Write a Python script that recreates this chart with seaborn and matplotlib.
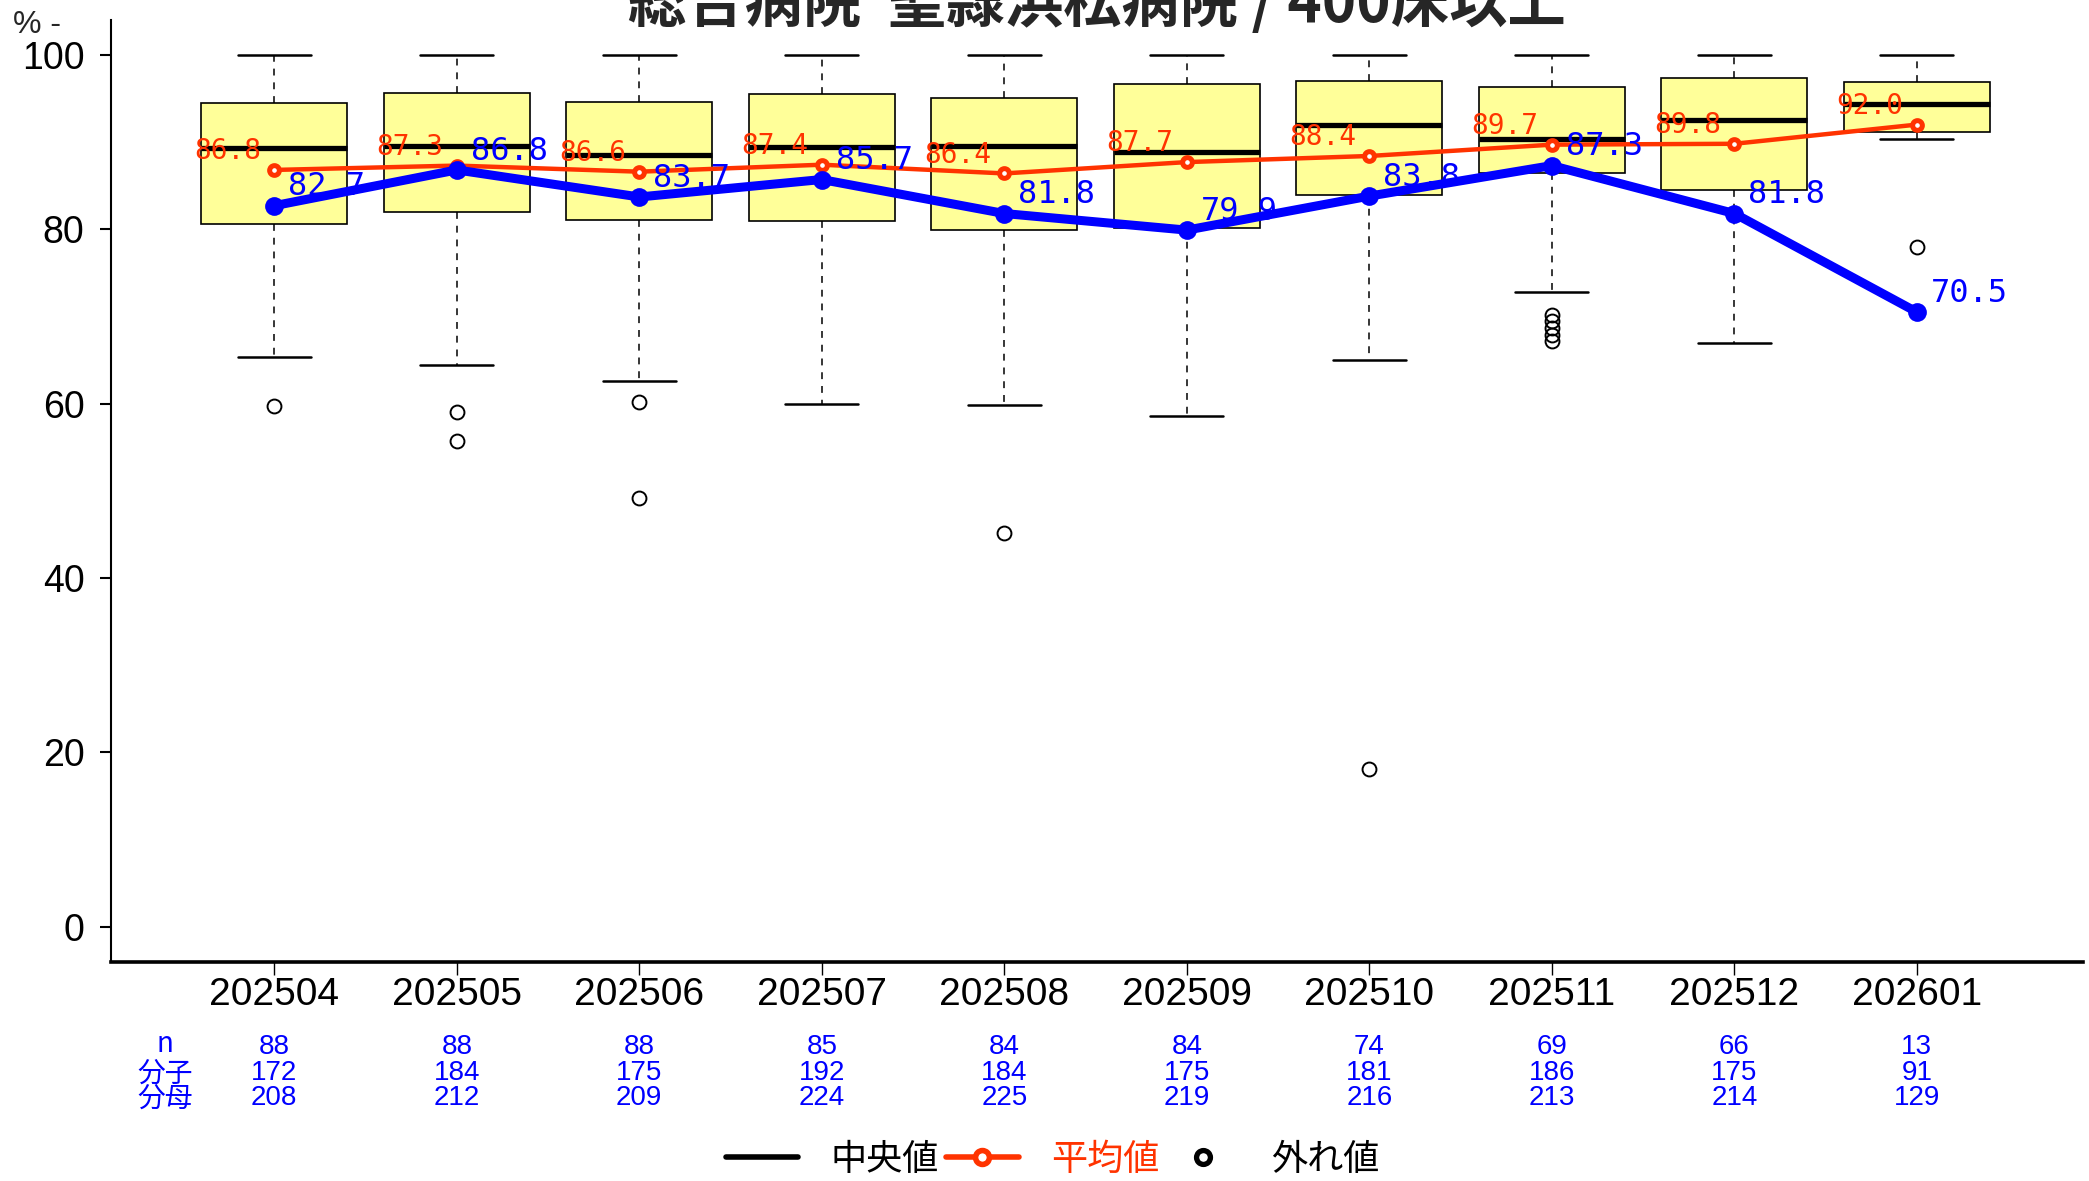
import matplotlib
matplotlib.use("Agg")
import matplotlib.pyplot as plt
import seaborn as sns
import pandas as pd
from matplotlib.lines import Line2D
from matplotlib.transforms import blended_transform_factory

# ---------------- data ----------------
months = ["202504", "202505", "202506", "202507", "202508",
          "202509", "202510", "202511", "202512", "202601"]
whisker_low = [65.3, 64.4, 62.6, 59.9, 59.8, 58.6, 65.0, 72.8, 67.0, 90.3]
q1_vals = [80.6, 82.0, 81.1, 81.0, 79.9, 80.1, 83.9, 86.4, 84.5, 91.1]
median_vals = [89.3, 89.6, 88.5, 89.4, 89.5, 88.9, 91.9, 90.4, 92.5, 94.4]
q3_vals = [94.5, 95.6, 94.6, 95.5, 95.0, 96.7, 97.0, 96.3, 97.3, 96.9]
whisker_high = [100, 100, 100, 100, 100, 100, 100, 100, 100, 100]
outliers = [[59.7], [59.0, 55.7], [60.2, 49.2], [], [45.2],
            [], [18.1], [70.2, 69.5, 68.7, 67.9, 67.2], [], [78.0]]
mean_vals = [86.8, 87.3, 86.6, 87.4, 86.4, 87.7, 88.4, 89.7, 89.8, 92.0]
rate_vals = [82.7, 86.8, 83.7, 85.7, 81.8, 79.9, 83.8, 87.3, 81.8, 70.5]
n_vals = [88, 88, 88, 85, 84, 84, 74, 69, 66, 13]
numerators = [172, 184, 175, 192, 184, 175, 181, 186, 175, 91]
denominators = [208, 212, 209, 224, 225, 219, 216, 213, 214, 129]
row_labels = ["n", "分子", "分母"]
title_text = "総合病院  聖隷浜松病院 / 400床以上"

RED = "#FF3300"
BLUE = "#0000FF"
YELLOW = "#FFFF99"

sns.set_style("ticks")
plt.rcParams["font.family"] = ["Liberation Sans", "Noto Sans CJK JP", "DejaVu Sans"]

fig = plt.figure(figsize=(20.89, 11.81), dpi=100)
ax = fig.add_axes([0.0531, 0.1857, 0.9971 - 0.0531, 0.9831 - 0.1857])

positions = list(range(len(months)))
stats = []
for i in positions:
    stats.append(dict(med=median_vals[i], q1=q1_vals[i], q3=q3_vals[i],
                      whislo=whisker_low[i], whishi=whisker_high[i],
                      fliers=outliers[i], label=months[i]))

ax.bxp(stats, positions=positions, widths=0.8, capwidths=0.4,
       patch_artist=True, manage_ticks=False,
       boxprops=dict(facecolor=YELLOW, edgecolor="black", linewidth=1.2),
       medianprops=dict(color="black", linewidth=3.8, solid_capstyle="butt"),
       whiskerprops=dict(color="black", linewidth=1.1, linestyle=(0, (4.5, 4.5))),
       capprops=dict(color="black", linewidth=1.8),
       flierprops=dict(marker="o", markerfacecolor="none", markeredgecolor="black",
                       markersize=10, markeredgewidth=1.4))

df = pd.DataFrame({"pos": positions, "mean": mean_vals, "rate": rate_vals})

sns.lineplot(data=df, x="pos", y="mean", ax=ax, color=RED, linewidth=3.2,
             marker="o", ms=7, mfc="white", mec=RED, mew=3.6, zorder=5)
sns.lineplot(data=df, x="pos", y="rate", ax=ax, color=BLUE, linewidth=6.5,
             marker="o", ms=13.5, mfc=BLUE, mec=BLUE, mew=0, zorder=6)

for x, m, r in zip(positions, mean_vals, rate_vals):
    ax.annotate(f"{m:.1f}", (x, m), xytext=(-9.5, 13.5), textcoords="offset points",
                ha="right", va="center", color=RED, fontsize=20,
                family="DejaVu Sans Mono", zorder=7)
    ax.annotate(f"{r:.1f}", (x, r), xytext=(10, 13.5), textcoords="offset points",
                ha="left", va="center", color=BLUE, fontsize=23,
                family="DejaVu Sans Mono", zorder=8)

ax.set_xlim(-0.895, 9.91)
ax.set_ylim(-4, 104)
ax.set_xticks(positions)
ax.set_xticklabels(months)
ax.set_yticks([0, 20, 40, 60, 80, 100])
ax.set_xlabel("")
ax.set_ylabel("")
ax.tick_params(axis="x", labelsize=28, length=9, width=1.0, pad=2, colors="black")
ax.tick_params(axis="y", labelsize=27, length=8, width=1.5, pad=11, colors="black")
sns.despine(ax=ax)
ax.spines["left"].set_linewidth(1.5)
ax.spines["bottom"].set_linewidth(2.6)
ax.spines["left"].set_color("black")
ax.spines["bottom"].set_color("black")
ax.grid(False)

# table below axis
trans = blended_transform_factory(ax.transData, fig.transFigure)
row_y = [1 - 1047 / 1181, 1 - 1073 / 1181, 1 - 1098 / 1181]
label_y = [1 - 1044 / 1181, 1 - 1074 / 1181, 1 - 1099 / 1181]
for lab, yy in zip(row_labels, label_y):
    ax.text(-0.6, yy, lab, transform=trans, ha="center", va="center",
            color=BLUE, fontsize=20, family=["Noto Sans CJK JP"], clip_on=False)
for x in positions:
    for vals, yy in zip([n_vals, numerators, denominators], row_y):
        ax.text(x, yy, str(vals[x]), transform=trans, ha="center", va="center",
                color=BLUE, fontsize=20, clip_on=False)

# title (partly above the canvas, as in the reference)
fig.text(0.525, 1 - 22 / 1181, title_text, ha="center", va="baseline",
         fontsize=42, fontweight="bold", family=["Noto Sans CJK JP"])
fig.text(0.006, 1 - 25 / 1181, "% -", ha="left", va="center", fontsize=23)

# legend
handles = [
    Line2D([], [], color="black", linewidth=4),
    Line2D([], [], color=RED, linewidth=4, marker="o", ms=10, mfc="white",
           mec=RED, mew=4),
    Line2D([], [], linestyle="none", marker="o", ms=10, mfc="none",
           mec="black", mew=3.8),
]
fig.legend(handles, ["中央値", "平均値", "外れ値"], loc="center",
           bbox_to_anchor=(0.504, 1 - 1160 / 1181), ncol=3, frameon=False,
           prop={"family": ["Noto Sans CJK JP"], "size": 26},
           handlelength=2.0, handletextpad=0.9, columnspacing=0.2,
           labelcolor=["black", RED, "black"])

fig.savefig("out.png", dpi=100)
